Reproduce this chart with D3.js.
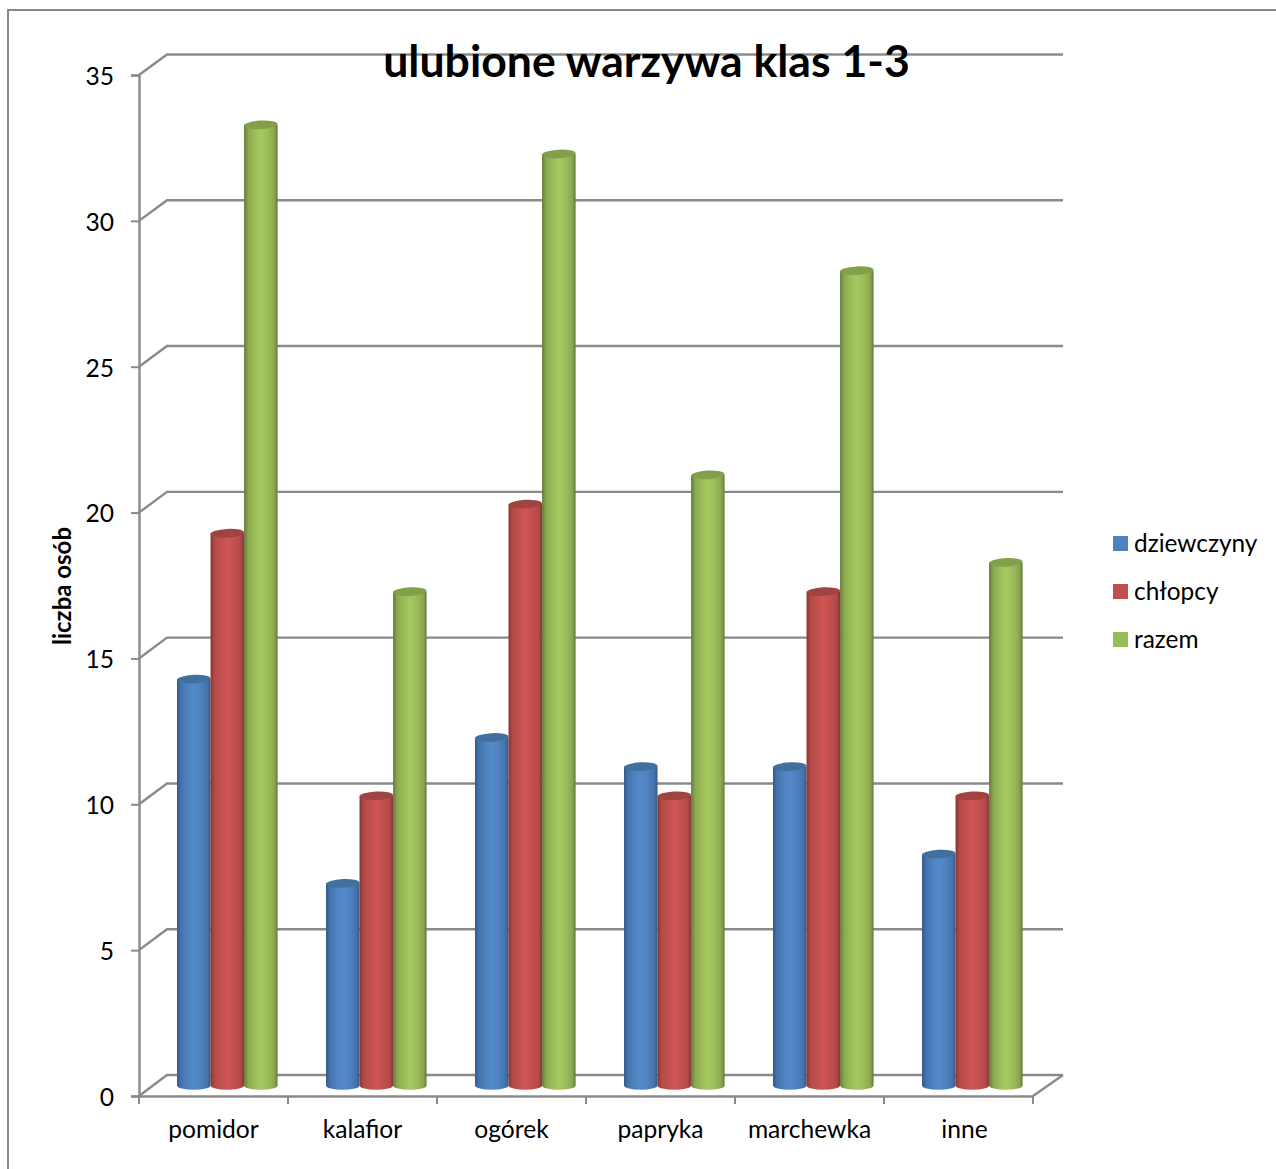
<!DOCTYPE html>
<html><head><meta charset="utf-8">
<script src="https://cdnjs.cloudflare.com/ajax/libs/d3/7.8.5/d3.min.js"></script>
<style>html,body{margin:0;padding:0;background:#fff}svg{display:block}text{font-family:Lato,"Open Sans",sans-serif;fill:#000}</style>
</head><body><svg id="c" width="1276" height="1169"></svg>
<script>
const categories=["pomidor","kalafior","ogórek","papryka","marchewka","inne"];
const seriesNames=["dziewczyny","chłopcy","razem"];
const dziewczyny=[14,7,12,11,11,8];
const chlopcy=[19,10,20,10,17,10];
const razem=[33,17,32,21,28,18];
const seriesValues=[dziewczyny,chlopcy,razem];
const yTicks=[0,5,10,15,20,25,30,35];
const title="ulubione warzywa klas 1-3";
const yTitle="liczba osób";
const palette=[
 {base:"#4f81bd",dark:"#34598a",mid:"#4474ae",light:"#5389ca",top:"#41709f"},
 {base:"#c0504d",dark:"#863634",mid:"#b34a48",light:"#d05553",top:"#a04341"},
 {base:"#9bbb59",dark:"#64793a",mid:"#8aa84f",light:"#a6c961",top:"#82a04a"}];
const grid="#8a8a8a";
const svg=d3.select("#c");
const defs=svg.append("defs");
palette.forEach((p,i)=>{
 const g=defs.append("linearGradient").attr("id","g"+i).attr("x1",0).attr("x2",1).attr("y1",0).attr("y2",0);
 [[0,p.dark],[.12,p.mid],[.3,p.base],[.5,p.light],[.72,p.base],[.9,p.mid],[1,p.dark]].forEach(s=>g.append("stop").attr("offset",s[0]).attr("stop-color",s[1]));
});
// frame
svg.append("path").attr("d","M8,1169V10H1276").attr("fill","none").attr("stroke","#868686").attr("stroke-width",2);
const xFront=d3.scaleBand().domain(categories).range([139,1033]);
const yFront=d3.scaleLinear().domain([0,35]).range([1096,75]);
const yBack=d3.scaleLinear().domain([0,35]).range([1075,54.5]);
const yBar=d3.scaleLinear().domain([0,35]).range([1087.5,66.5]);
const barFloor=1085.5;
const xBack=[167,1063];
const lines=svg.append("g").attr("fill","none").attr("stroke",grid).attr("stroke-width",2.4);
yTicks.forEach(t=>{
 lines.append("path").attr("d",`M${xFront.range()[0]},${yFront(t)}L${xBack[0]},${yBack(t)}H${xBack[1]}`);
});
lines.append("path").attr("d",`M${xFront.range()[1]},${yFront(0)}L${xBack[1]},${yBack(0)}`);
// axes
const axL=svg.append("g").attr("transform","translate(139,0)").call(d3.axisLeft(yFront).tickValues(yTicks).tickSize(8).tickPadding(17));
const axB=svg.append("g").attr("transform","translate(0,1096)").call(d3.axisBottom(xFront).tickSize(0).tickPadding(23));
[axL,axB].forEach(a=>{a.selectAll("path.domain").attr("stroke",grid).attr("stroke-width",2.4);a.selectAll("line").attr("stroke",grid).attr("stroke-width",2);a.selectAll("text").style("font-size","24.6px");});
axL.selectAll("text").attr("dy","0.38em");
axB.selectAll("text").attr("dx",(d,i)=>i===categories.length-1?6:0).attr("dy",".78em");
svg.append("g").attr("stroke",grid).attr("stroke-width",2).selectAll("line").data(categories.concat(["end"])).join("line")
 .attr("x1",(d,i)=>139+xFront.step()*i).attr("x2",(d,i)=>139+xFront.step()*i).attr("y1",1096).attr("y2",1104);
// bars
const inner=d3.scaleBand().domain(seriesNames).range([38,138.6]);
const rx=inner.bandwidth()/2, ry=4.3;
categories.forEach((c,ci)=>{
 seriesNames.forEach((s,si)=>{
  const x0=xFront(c)+inner(s), w=inner.bandwidth(), yt=yBar(seriesValues[si][ci]);
  const g=svg.append("g");
  g.append("path").attr("d",`M${x0},${yt}V${barFloor}A${rx},${ry} 0 0 0 ${x0+w},${barFloor}V${yt}Z`).attr("fill",`url(#g${si})`);
  g.append("ellipse").attr("cx",x0+rx).attr("cy",yt).attr("rx",rx).attr("ry",ry).attr("fill",palette[si].top)
   .attr("transform",`rotate(-3 ${x0+rx} ${yt})`);
 });
});
// title
svg.append("text").attr("x",646.5).attr("y",77).attr("text-anchor","middle").attr("font-weight",700).style("font-size","44.6px").text(title);
svg.append("text").attr("transform","translate(71,586) rotate(-90)").attr("text-anchor","middle").attr("font-weight",700).style("font-size","24px").text(yTitle);
// legend
const ly=d3.scalePoint().domain(seriesNames).range([543.5,639.5]);
seriesNames.forEach((s,i)=>{
 svg.append("rect").attr("x",1113).attr("y",ly(s)-7.5).attr("width",15).attr("height",15).attr("fill",palette[i].base);
 svg.append("text").attr("x",1134).attr("y",ly(s)+8).style("font-size","24.4px").text(s);
});
</script></body></html>
